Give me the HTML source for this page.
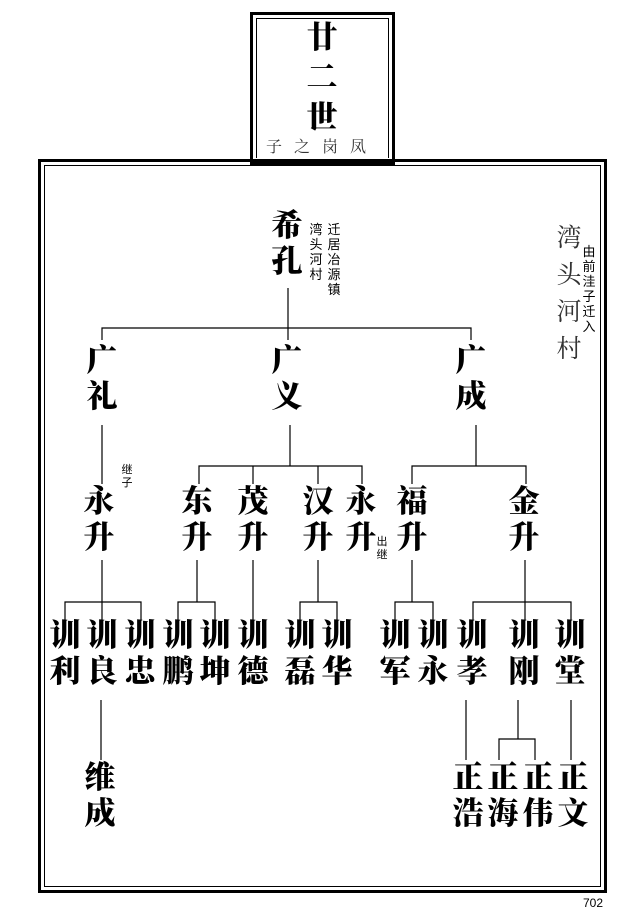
<!DOCTYPE html>
<html><head><meta charset="utf-8">
<style>
html,body{margin:0;padding:0;background:#fff;}
body{width:641px;height:916px;position:relative;overflow:hidden;font-family:"Liberation Serif","Noto Serif CJK SC",serif;}
.n{position:absolute;width:40px;margin-left:-20px;text-align:center;font-weight:900;font-size:31px;line-height:36px;color:#000;}
.s{position:absolute;width:16px;margin-left:-8px;text-align:center;font-size:13px;line-height:15px;color:#000;font-family:"Liberation Sans","Noto Sans CJK SC",sans-serif;}
</style></head><body>
<svg width="641" height="916" style="position:absolute;left:0;top:0">
<g fill="none" stroke="#000">
<rect x="251.5" y="13.5" width="142" height="150" stroke-width="3"/>
<rect x="256.5" y="18.5" width="132" height="140" stroke-width="1"/>
<rect x="39.5" y="160.5" width="566" height="731" stroke-width="3"/>
<rect x="44.5" y="165.5" width="556" height="721" stroke-width="1"/>
</g>
<rect x="253" y="158" width="139" height="4" fill="#fff"/>
<rect x="250" y="159" width="145" height="3" fill="#000"/>
<g stroke="#000" stroke-width="1.2" fill="none">
<path d="M288 288V328M102 340V328H471V340M288 328V340"/>
<path d="M102 425V484M290 425V466M199 484V466H362V484M253 466V484M318 466V484"/>
<path d="M476 425V466M412 484V466H526V484"/>
<path d="M102 560V602M65 620V602H141V620M102 602V620"/>
<path d="M197 560V602M178 620V602H215V620"/>
<path d="M253 560V620"/>
<path d="M318 560V602M300 620V602H337V620"/>
<path d="M412 560V602M395 620V602H433V620"/>
<path d="M525 560V620M473 620V602H571V620"/>
<path d="M101 700V760M466 700V760M518 700V739M499 760V739H535V760M571 700V760"/>
</g>
</svg>

<div class="n" style="left:322px;top:18px;font-size:31px;line-height:40px;">廿<br>二<br>世</div>
<div style="position:absolute;left:266px;top:134px;white-space:nowrap;font-size:16px;letter-spacing:12px;color:#333;font-family:'Liberation Serif','Noto Serif CJK SC',serif;">子之岗凤</div>

<div class="n" style="left:287px;top:208px;">希<br>孔</div>
<div class="s" style="left:316px;top:222px;">湾<br>头<br>河<br>村</div>
<div class="s" style="left:334px;top:222px;">迁<br>居<br>冶<br>源<br>镇</div>

<div style="position:absolute;left:555px;top:220px;width:28px;text-align:center;font-size:25px;line-height:37px;color:#333;font-family:'Liberation Serif','Noto Serif CJK SC',serif;">湾<br>头<br>河<br>村</div>
<div class="s" style="left:589px;top:244px;">由<br>前<br>洼<br>子<br>迁<br>入</div>

<div class="n" style="left:102px;top:343px;">广<br>礼</div>
<div class="n" style="left:287px;top:343px;">广<br>义</div>
<div class="n" style="left:471px;top:343px;">广<br>成</div>

<div class="s" style="left:127px;top:464px;font-size:11px;line-height:13px;">继<br>子</div>
<div class="n" style="left:99px;top:484px;">永<br>升</div>
<div class="n" style="left:197px;top:484px;">东<br>升</div>
<div class="n" style="left:253px;top:484px;">茂<br>升</div>
<div class="n" style="left:318px;top:484px;">汉<br>升</div>
<div class="n" style="left:361px;top:484px;">永<br>升</div>
<div class="s" style="left:382px;top:536px;font-size:11px;line-height:13px;">出<br>继</div>
<div class="n" style="left:412px;top:484px;">福<br>升</div>
<div class="n" style="left:524px;top:484px;">金<br>升</div>

<div class="n" style="left:65px;top:618px;">训<br>利</div>
<div class="n" style="left:102px;top:618px;">训<br>良</div>
<div class="n" style="left:140px;top:618px;">训<br>忠</div>
<div class="n" style="left:178px;top:618px;">训<br>鹏</div>
<div class="n" style="left:215px;top:618px;">训<br>坤</div>
<div class="n" style="left:253px;top:618px;">训<br>德</div>
<div class="n" style="left:300px;top:618px;">训<br>磊</div>
<div class="n" style="left:337px;top:618px;">训<br>华</div>
<div class="n" style="left:395px;top:618px;">训<br>军</div>
<div class="n" style="left:433px;top:618px;">训<br>永</div>
<div class="n" style="left:472px;top:618px;">训<br>孝</div>
<div class="n" style="left:524px;top:618px;">训<br>刚</div>
<div class="n" style="left:570px;top:618px;">训<br>堂</div>

<div class="n" style="left:100px;top:760px;">维<br>成</div>
<div class="n" style="left:468px;top:760px;">正<br>浩</div>
<div class="n" style="left:503px;top:760px;">正<br>海</div>
<div class="n" style="left:538px;top:760px;">正<br>伟</div>
<div class="n" style="left:573px;top:760px;">正<br>文</div>

<div style="position:absolute;left:583px;top:896px;font-size:12px;font-family:'Liberation Sans',sans-serif;color:#000;">702</div>
</body></html>
